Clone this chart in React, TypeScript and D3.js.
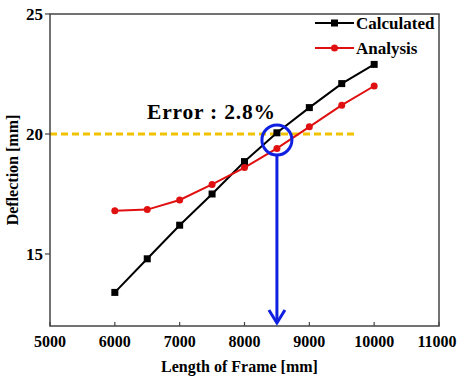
import React from "react";
import * as d3 from "d3";

const lengths = [6000, 6500, 7000, 7500, 8000, 8500, 9000, 9500, 10000];
const calculated = [13.4, 14.8, 16.2, 17.5, 18.85, 20.05, 21.1, 22.1, 22.9];
const analysis = [16.8, 16.85, 17.25, 17.9, 18.6, 19.4, 20.3, 21.2, 22.0];
const xTicks = [5000, 6000, 7000, 8000, 9000, 10000, 11000];
const yTicks = [15, 20, 25];
const targetDeflection = 20;
const targetLength = 8500;
const errorLabel = "Error : 2.8%";

const width = 458;
const height = 381;
const margin = { top: 14, right: 19, bottom: 55, left: 50 };
const font = "'Liberation Serif', 'DejaVu Serif', serif";

export default function App() {
  const x = d3
    .scaleLinear()
    .domain([5000, 11000])
    .range([margin.left, width - margin.right]);
  const y = d3
    .scaleLinear()
    .domain([12, 25])
    .range([height - margin.bottom, margin.top]);

  const line = d3
    .line<number>()
    .x((d, i) => x(lengths[i]))
    .y((d) => y(d));

  const x0 = x.range()[0];
  const x1 = x.range()[1];
  const y0 = y.range()[0];
  const y1 = y.range()[1];

  const cx = x(targetLength);
  const cy = y(19.75);
  const r = 15;
  const arrowTip = y0 - 3;

  return (
    <svg
      width={width}
      height={height}
      style={{
        position: "absolute",
        left: 0,
        top: 0,
        background: "#fff",
        fontFamily: font,
        fontWeight: "bold",
      }}
    >
      {/* dashed reference line */}
      <line
        x1={x0}
        x2={x(9700)}
        y1={y(targetDeflection)}
        y2={y(targetDeflection)}
        stroke="#f2c200"
        strokeWidth={3}
        strokeDasharray="7 4"
      />

      {/* series */}
      <path d={line(calculated) ?? ""} fill="none" stroke="#000" strokeWidth={2} />
      {calculated.map((d, i) => (
        <rect key={"c" + i} x={x(lengths[i]) - 3.5} y={y(d) - 3.5} width={7} height={7} fill="#000" />
      ))}
      <path d={line(analysis) ?? ""} fill="none" stroke="#e01010" strokeWidth={2} />
      {analysis.map((d, i) => (
        <circle key={"a" + i} cx={x(lengths[i])} cy={y(d)} r={3.5} fill="#e01010" />
      ))}

      {/* highlight circle + arrow */}
      <circle cx={cx} cy={cy} r={r} fill="none" stroke="#1020e0" strokeWidth={3} />
      <line x1={cx} x2={cx} y1={cy + r} y2={arrowTip} stroke="#1020e0" strokeWidth={3} />
      <polyline
        points={`${cx - 8},${arrowTip - 13} ${cx},${arrowTip} ${cx + 8},${arrowTip - 13}`}
        fill="none"
        stroke="#1020e0"
        strokeWidth={3}
      />

      <text x={147} y={119} fontSize={21.5} fill="#000" textLength={128} lengthAdjust="spacing">
        {errorLabel}
      </text>

      {/* frame */}
      <rect x={x0} y={y1} width={x1 - x0} height={y0 - y1} fill="none" stroke="#444" strokeWidth={1.5} />

      {/* x axis */}
      {xTicks.map((t) => (
        <g key={"x" + t}>
          <line x1={x(t)} x2={x(t)} y1={y0} y2={y0 - 4} stroke="#444" strokeWidth={1.2} />
          <text x={Math.min(x(t), 437)} y={347} textAnchor="middle" fontSize={16}>
            {t}
          </text>
        </g>
      ))}
      <text x={(x0 + x1) / 2 - 5} y={372} textAnchor="middle" fontSize={16}>
        Length of Frame [mm]
      </text>

      {/* y axis */}
      {yTicks.map((t) => (
        <g key={"y" + t}>
          <line x1={x0} x2={x0 - 5} y1={y(t)} y2={y(t)} stroke="#444" strokeWidth={1.2} />
          <text x={43} y={y(t) + 6} textAnchor="end" fontSize={17}>
            {t}
          </text>
        </g>
      ))}
      <text
        transform={`translate(18, ${(y0 + y1) / 2}) rotate(-90)`}
        textAnchor="middle"
        fontSize={16}
      >
        Deflection [mm]
      </text>

      {/* legend */}
      <g transform="translate(315, 23)">
        <line x1={0} x2={39} y1={0} y2={0} stroke="#000" strokeWidth={2} />
        <rect x={16} y={-3.5} width={7} height={7} fill="#000" />
        <text x={41} y={6} fontSize={17}>Calculated</text>
      </g>
      <g transform="translate(315, 48)">
        <line x1={0} x2={39} y1={0} y2={0} stroke="#e01010" strokeWidth={2} />
        <circle cx={19.5} cy={0} r={3.5} fill="#e01010" />
        <text x={41} y={6} fontSize={17}>Analysis</text>
      </g>
    </svg>
  );
}
